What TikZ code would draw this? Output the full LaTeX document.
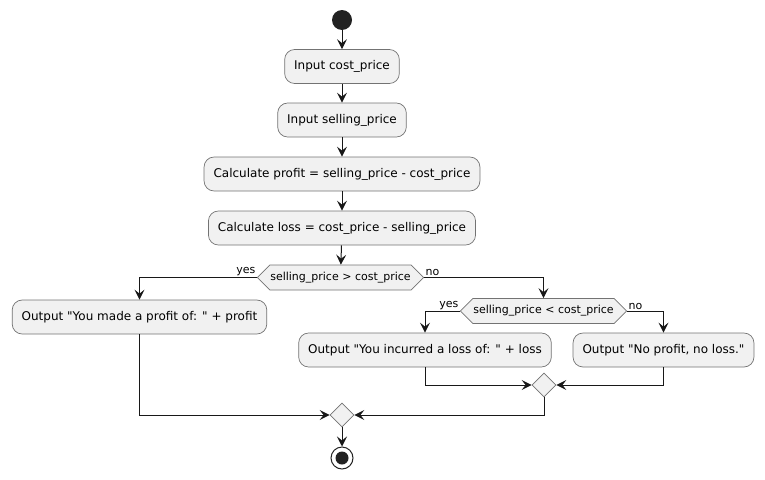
\documentclass[tikz,border=0pt]{standalone}
\usepackage{fontspec}
\setmainfont{DejaVu Sans}[Ligatures=TeXOff]
\usetikzlibrary{arrows.meta,shapes.geometric,shapes.symbols}
\definecolor{boxfill}{HTML}{F1F1F1}
\definecolor{lineclr}{HTML}{181818}
\definecolor{dotclr}{HTML}{222222}
\begin{document}
\begin{tikzpicture}[x=1pt, y=-1pt,
    action/.style={draw=black!55, line width=0.7pt, fill=boxfill, rounded corners=10pt,
        minimum height=34pt, inner xsep=9.5pt, font=\fontsize{12}{14}\selectfont},
    test/.style={draw=black!55, line width=0.7pt, fill=boxfill, signal, signal to=east and west,
        signal pointer angle=90, minimum height=25pt, inner xsep=0.5pt, inner ysep=0pt,
        font=\fontsize{11}{13}\selectfont},
    merge/.style={draw=black!55, line width=0.7pt, fill=boxfill, diamond, minimum size=24pt, inner sep=0pt},
    flow/.style={draw=lineclr, line width=1pt, -{Stealth[length=10pt, width=10pt, inset=4pt]}},
    lbl/.style={font=\fontsize{11}{13}\selectfont, inner sep=1pt}]
    \useasboundingbox (0,0) rectangle (765,479);
    % start and steps
    \node[circle, fill=dotclr, minimum size=20pt, inner sep=0pt] (start) at (342,20) {};
    \node[action] (incost) at (342,66.5) {Input cost\_price};
    \node[action] (insell) at (342,120) {Input selling\_price};
    \node[action] (calcprofit) at (342,174) {Calculate profit = selling\_price - cost\_price};
    \node[action] (calcloss) at (342,228) {Calculate loss = cost\_price - selling\_price};
    % first test
    \node[test] (gain) at (340.5,277.5) {selling\_price > cost\_price};
    \node[action] (outprofit) at (139.5,317) {Output "You made a profit of: " + profit};
    % second test
    \node[test] (lose) at (543.5,311) {selling\_price < cost\_price};
    \node[action] (outloss) at (425,350) {Output "You incurred a loss of: " + loss};
    \node[action] (outnone) at (663.5,350) {Output "No profit, no loss."};
    \node[merge] (join2) at (544,385) {};
    \node[merge] (join1) at (342,415) {};
    % stop
    \node[circle, draw=dotclr, line width=1pt, fill=white, minimum size=22pt, inner sep=0pt] (stop) at (342,458) {};
    \fill[dotclr] (stop) circle (6.5);

    \draw[flow] (start) -- (incost);
    \draw[flow] (incost) -- (insell);
    \draw[flow] (insell) -- (calcprofit);
    \draw[flow] (calcprofit) -- (calcloss);
    \draw[flow] (calcloss) -- (gain);
    \draw[flow] (gain.west) node[lbl, above left] {yes} -| (outprofit);
    \draw[flow] (gain.east) node[lbl, above right] {no} -| (lose);
    \draw[flow] (lose.west) node[lbl, above left] {yes} -| (outloss);
    \draw[flow] (lose.east) node[lbl, above right] {no} -| (outnone);
    \draw[flow] (outloss) |- (join2);
    \draw[flow] (outnone) |- (join2);
    \draw[flow] (outprofit) |- (join1);
    \draw[flow] (join2) |- (join1);
    \draw[flow] (join1) -- (stop);
\end{tikzpicture}
\end{document}
